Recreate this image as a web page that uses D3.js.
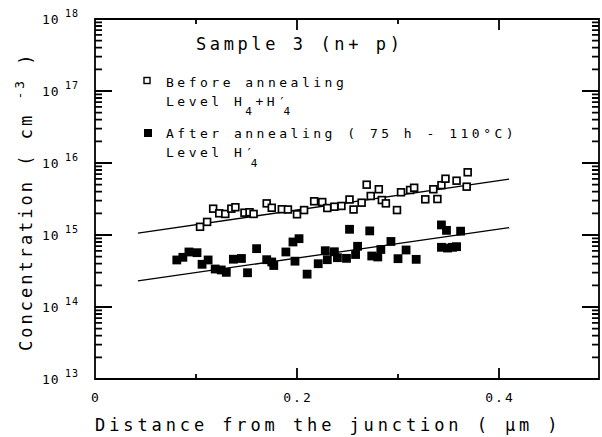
<!DOCTYPE html>
<html>
<head>
<meta charset="utf-8">
<script src="https://cdn.jsdelivr.net/npm/d3@7"></script>
<style>
  body { margin: 0; background: #fff; }
  text { font-family: "DejaVu Sans Mono", monospace; fill: #000; }
</style>
</head>
<body>
<svg id="chart" width="602" height="437"></svg>
<script>
// data
var beforeX = [0.104,0.111,0.117,0.123,0.129,0.135,0.139,0.148,0.153,0.157,0.170,0.175,0.185,0.191,0.200,0.207,0.217,0.225,0.230,0.237,0.244,0.252,0.256,0.264,0.269,0.273,0.281,0.284,0.288,0.299,0.303,0.312,0.316,0.327,0.335,0.339,0.343,0.347,0.358,0.368,0.369];
var beforeC = [1.30e15,1.52e15,2.32e15,2.00e15,1.96e15,2.32e15,2.43e15,2.04e15,2.07e15,1.96e15,2.75e15,2.39e15,2.28e15,2.26e15,1.94e15,2.22e15,2.94e15,2.87e15,2.37e15,2.47e15,2.53e15,3.11e15,2.26e15,2.81e15,5.00e15,3.48e15,4.32e15,3.06e15,2.75e15,2.22e15,3.92e15,4.22e15,4.53e15,3.13e15,4.32e15,3.16e15,4.92e15,6.05e15,5.68e15,4.69e15,7.43e15];

var afterX = [0.081,0.087,0.093,0.101,0.106,0.112,0.119,0.125,0.130,0.137,0.145,0.151,0.160,0.170,0.175,0.177,0.189,0.196,0.202,0.198,0.210,0.221,0.228,0.230,0.237,0.240,0.249,0.252,0.258,0.260,0.272,0.274,0.280,0.283,0.293,0.300,0.308,0.318,0.343,0.348,0.362,0.343,0.349,0.354,0.358];
var afterC = [4.50e14,4.90e14,5.81e14,5.68e14,3.92e14,4.50e14,3.37e14,3.27e14,3.03e14,4.61e14,4.72e14,2.99e14,6.46e14,4.54e14,4.22e14,3.77e14,5.81e14,8.00e14,8.89e14,4.33e14,2.86e14,3.99e14,6.05e14,4.54e14,5.85e14,4.84e14,4.74e14,1.20e15,5.36e14,6.97e14,1.14e15,5.11e14,4.95e14,6.29e14,8.13e14,4.69e14,6.19e14,4.59e14,1.38e15,1.16e15,1.13e15,6.75e14,6.59e14,6.75e14,6.88e14];

// fitted lines (end points)
var fitX = [0.0425, 0.41];
var fitBefore = [1.06e15, 5.97e15];
var fitAfter = [2.3e14, 1.27e15];

// tick labels
var xTickLabels = [0, 0.2, 0.4];
var xMajor = [0.2, 0.4];
var xMinor = [0.1, 0.3];
var decades = [13, 14, 15, 16, 17, 18];

var svg = d3.select("#chart");

var x = d3.scaleLinear().domain([0, 0.5]).range([95, 600]);
var y = d3.scaleLog().domain([1e13, 1e18]).range([379, 19]);

var plotL = 95, plotR = 599, plotT = 19, plotB = 379;

var majorY = decades.map(function (e) { return Math.pow(10, e); });
var minorY = [];
decades.slice(0, -1).forEach(function (e) {
    for (var k = 2; k <= 9; k++) minorY.push(k * Math.pow(10, e));
});

// frame and tick marks in one path
var fp = d3.path();
fp.moveTo(plotL, plotT);
fp.lineTo(plotR, plotT);
fp.lineTo(plotR, plotB);
fp.lineTo(plotL, plotB);
fp.closePath();

function yTicks(vals, len) {
    vals.forEach(function (v) {
        var py = y(v);
        fp.moveTo(plotL, py); fp.lineTo(plotL + len, py);
        fp.moveTo(plotR, py); fp.lineTo(plotR - len, py);
    });
}
function xTicks(vals, len) {
    vals.forEach(function (v) {
        var px = x(v);
        fp.moveTo(px, plotB); fp.lineTo(px, plotB - len);
        fp.moveTo(px, plotT); fp.lineTo(px, plotT + len);
    });
}
yTicks(majorY, 17);
yTicks(minorY, 7);
xTicks(xMajor, 11);
xTicks(xMinor, 5);

svg.append("path")
    .attr("d", fp.toString())
    .attr("fill", "none")
    .attr("stroke", "#000")
    .attr("stroke-width", 1.8);

// y tick labels 10^n
var yl = svg.append("g");
decades.forEach(function (e) {
    var py = y(Math.pow(10, e));
    yl.append("text")
        .attr("x", 42)
        .attr("y", py + 5)
        .attr("font-size", "13px")
        .attr("letter-spacing", "1px")
        .text("10");
    yl.append("text")
        .attr("x", 65)
        .attr("y", py - 2)
        .attr("font-size", "10px")
        .attr("letter-spacing", "1px")
        .text(e);
});

// x tick labels
svg.selectAll(".xlab")
    .data(xTickLabels).enter()
    .append("text")
    .attr("class", "xlab")
    .attr("x", function (d) { return x(d) + 1; })
    .attr("y", 402)
    .attr("text-anchor", "middle")
    .attr("font-size", "13px")
    .attr("letter-spacing", "2px")
    .text(function (d) { return d === 0 ? "0" : d.toFixed(1); });

// axis titles
svg.append("text")
    .attr("x", 95)
    .attr("y", 431)
    .attr("font-size", "17px")
    .attr("letter-spacing", "3.9px")
    .text("Distance from the junction ( \u03bcm )");

var yt = svg.append("text")
    .attr("transform", "translate(32,351) rotate(-90)")
    .attr("font-size", "17px")
    .attr("letter-spacing", "3px");
yt.append("tspan").text("Concentration ( cm ");
yt.append("tspan").attr("dy", -8).attr("font-size", "13px").text("-3");
yt.append("tspan").attr("dy", 8).text(" )");

// fitted lines
var line = d3.line()
    .x(function (d) { return x(d[0]); })
    .y(function (d) { return y(d[1]); });

[fitBefore, fitAfter].forEach(function (f) {
    svg.append("path")
        .attr("d", line(d3.zip(fitX, f)))
        .attr("fill", "none")
        .attr("stroke", "#000")
        .attr("stroke-width", 1.3);
});

// points
svg.selectAll(".open")
    .data(d3.zip(beforeX, beforeC)).enter()
    .append("rect")
    .attr("class", "open")
    .attr("x", function (d) { return x(d[0]) - 3.4; })
    .attr("y", function (d) { return y(d[1]) - 3.4; })
    .attr("width", 6.8)
    .attr("height", 6.8)
    .attr("fill", "#fff")
    .attr("stroke", "#000")
    .attr("stroke-width", 1.7);

svg.selectAll(".filled")
    .data(d3.zip(afterX, afterC)).enter()
    .append("rect")
    .attr("class", "filled")
    .attr("x", function (d) { return x(d[0]) - 4.4; })
    .attr("y", function (d) { return y(d[1]) - 4.4; })
    .attr("width", 8.8)
    .attr("height", 8.8)
    .attr("fill", "#000");

// legend
svg.append("text")
    .attr("x", 196)
    .attr("y", 50)
    .attr("font-size", "17px")
    .attr("letter-spacing", "3.6px")
    .text("Sample 3 (n+ p)");

svg.append("rect")
    .attr("x", 144).attr("y", 77.5)
    .attr("width", 6).attr("height", 6)
    .attr("fill", "#fff").attr("stroke", "#000").attr("stroke-width", 1.4);

svg.append("text")
    .attr("x", 166).attr("y", 87)
    .attr("font-size", "13px").attr("letter-spacing", "3.5px")
    .text("Before annealing");

var l1 = svg.append("text")
    .attr("x", 166).attr("y", 106)
    .attr("font-size", "13px").attr("letter-spacing", "3.5px");
l1.append("tspan").text("Level H");
l1.append("tspan").attr("dy", 9).attr("font-size", "11px").text("4");
l1.append("tspan").attr("dy", -9).text("+H\u2032");
l1.append("tspan").attr("dx", -6).attr("dy", 9).attr("font-size", "11px").text("4");

svg.append("rect")
    .attr("x", 144).attr("y", 129)
    .attr("width", 8).attr("height", 8)
    .attr("fill", "#000");

svg.append("text")
    .attr("x", 166).attr("y", 138)
    .attr("font-size", "13px").attr("letter-spacing", "3.5px")
    .text("After annealing ( 75 h - 110\u00b0C)");

var l2 = svg.append("text")
    .attr("x", 166).attr("y", 157)
    .attr("font-size", "13px").attr("letter-spacing", "3.5px");
l2.append("tspan").text("Level H\u2032");
l2.append("tspan").attr("dx", -6).attr("dy", 10).attr("font-size", "11px").text("4");
</script>
</body>
</html>
